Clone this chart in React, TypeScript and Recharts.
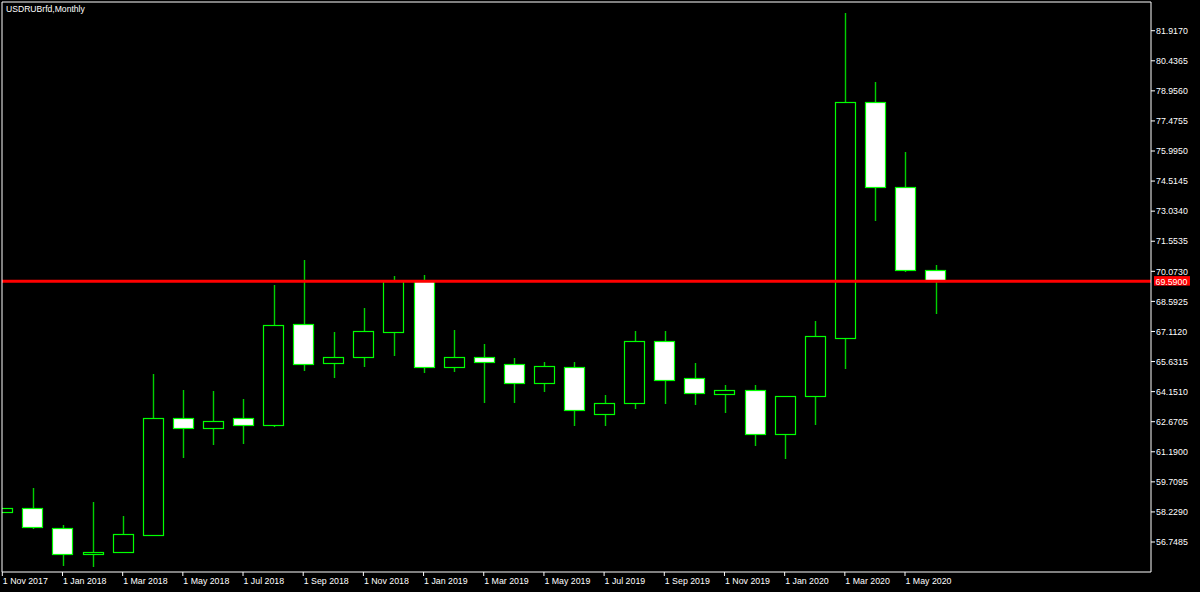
import React from 'react';
import { ComposedChart, Bar, XAxis, YAxis, ReferenceLine } from 'recharts';

const months = [
  'Nov 2017', 'Dec 2017', 'Jan 2018', 'Feb 2018', 'Mar 2018', 'Apr 2018', 'May 2018', 'Jun 2018',
  'Jul 2018', 'Aug 2018', 'Sep 2018', 'Oct 2018', 'Nov 2018', 'Dec 2018', 'Jan 2019', 'Feb 2019',
  'Mar 2019', 'Apr 2019', 'May 2019', 'Jun 2019', 'Jul 2019', 'Aug 2019', 'Sep 2019', 'Oct 2019',
  'Nov 2019', 'Dec 2019', 'Jan 2020', 'Feb 2020', 'Mar 2020', 'Apr 2020', 'May 2020', 'Jun 2020',
];

const openVals = [
  58.25, 58.41, 57.42, 56.14, 56.26, 57.09, 62.84, 62.37,
  62.84, 62.51, 67.48, 65.57, 65.84, 67.07, 69.62, 65.35,
  65.86, 65.53, 64.56, 65.35, 63.06, 63.58, 66.64, 64.81,
  64.05, 64.25, 62.05, 63.92, 66.78, 78.41, 74.24, 70.12,
];
const highVals = [
  58.41, 59.39, 57.59, 58.73, 58.04, 65.02, 64.23, 64.18,
  63.77, 69.40, 70.63, 67.07, 68.25, 69.83, 69.89, 67.17,
  66.48, 65.82, 65.59, 65.60, 63.97, 67.13, 67.13, 65.55,
  64.48, 64.48, 63.93, 67.63, 82.77, 79.39, 75.96, 70.37,
];
const lowVals = [
  58.25, 57.37, 55.57, 55.50, 56.19, 57.04, 60.87, 61.52,
  61.57, 62.39, 65.18, 64.82, 65.36, 65.92, 65.08, 65.13,
  63.61, 63.61, 64.12, 62.46, 62.47, 63.28, 63.56, 63.51,
  63.11, 61.49, 60.83, 62.51, 65.27, 72.56, 70.05, 67.97,
];
const closeVals = [
  58.41, 57.50, 56.14, 56.27, 57.13, 62.84, 62.37, 62.70,
  62.51, 67.43, 65.53, 65.87, 67.13, 69.62, 65.35, 65.86,
  65.59, 64.56, 65.40, 63.25, 63.58, 66.64, 64.74, 64.10,
  64.25, 62.05, 63.92, 66.87, 78.41, 74.22, 70.12, 69.59,
];

const xTickIndex = [0, 2, 4, 6, 8, 10, 12, 14, 16, 18, 20, 22, 24, 26, 28, 30];
const xTickLabels = [
  '1 Nov 2017', '1 Jan 2018', '1 Mar 2018', '1 May 2018', '1 Jul 2018', '1 Sep 2018',
  '1 Nov 2018', '1 Jan 2019', '1 Mar 2019', '1 May 2019', '1 Jul 2019', '1 Sep 2019',
  '1 Nov 2019', '1 Jan 2020', '1 Mar 2020', '1 May 2020',
];
const yTicks = [
  56.7485, 58.229, 59.7095, 61.19, 62.6705, 64.151, 65.6315, 67.112, 68.5925,
  70.073, 71.5535, 73.034, 74.5145, 75.995, 77.4755, 78.956, 80.4365, 81.917,
];
const yTickLabels = [
  '56.7485', '58.2290', '59.7095', '61.1900', '62.6705', '64.1510', '65.6315', '67.1120', '68.5925',
  '70.0730', '71.5535', '73.0340', '74.5145', '75.9950', '77.4755', '78.9560', '80.4365', '81.9170',
];
const lastPrice = 69.59;
const lastPriceLabel = '69.5900';
const title = 'USDRUBrfd,Monthly';

const X_MIN = -0.01;
const X_MAX = 38.175;
const Y_MIN = 55.272;
const Y_MAX = 83.33;

const data = months.map((m, i) => ({
  i,
  month: m,
  open: openVals[i],
  high: highVals[i],
  low: lowVals[i],
  close: closeVals[i],
  range: [lowVals[i], highVals[i]],
}));

const FONT = '"Liberation Sans", Arial, sans-serif';
const GREEN = '#00ff00';
const WICK = '#00d000';

const Candle = (props: any) => {
  const { x, y, width, height, payload } = props;
  if (payload == null || x == null || y == null) return null;
  const { open, close, high, low } = payload;
  const top = Math.min(y, y + height);
  const h = Math.abs(height);
  const span = high - low;
  const k = span > 0 ? h / span : 0;
  const yO = top + (high - open) * k;
  const yC = top + (high - close) * k;
  const bTop = Math.round(Math.min(yO, yC));
  const bBot = Math.round(Math.max(yO, yC));
  const cx = x + width / 2;
  const wx = Math.round(cx) + 0.5;
  const bx = Math.round(cx - 10.5) + 0.5;
  const bull = close > open;
  const yHigh = Math.round(top);
  const yLow = Math.round(top + h);
  return (
    <g>
      {bTop > yHigh && (
        <line x1={wx} x2={wx} y1={yHigh} y2={bTop} stroke={WICK} strokeWidth={1.4} />
      )}
      {yLow > bBot && (
        <line x1={wx} x2={wx} y1={bBot} y2={yLow} stroke={WICK} strokeWidth={1.4} />
      )}
      <rect
        x={bx}
        y={bTop + 0.5}
        width={20}
        height={Math.max(bBot - bTop, 1)}
        fill={bull ? '#000000' : '#ffffff'}
        stroke={GREEN}
        strokeWidth={1.2}
      />
    </g>
  );
};

const XTick = (props: any) => {
  const { x, y, payload } = props;
  const idx = xTickIndex.indexOf(payload.value);
  const label = idx >= 0 ? xTickLabels[idx] : '';
  return (
    <text x={x + 0.5} y={y} dy={5.6} fill="#ffffff" fontSize={8.8} fontFamily={FONT} textAnchor="start">
      {label}
    </text>
  );
};

const YTick = (props: any) => {
  const { x, y, payload } = props;
  const idx = yTicks.indexOf(payload.value);
  const label = idx >= 0 ? yTickLabels[idx] : String(payload.value);
  return (
    <text x={x} y={y} dy={3.2} fill="#ffffff" fontSize={8.8} fontFamily={FONT} textAnchor="start">
      {label}
    </text>
  );
};

const PriceLabel = (p: any) => {
  const vb = p.viewBox || {};
  const yy = vb.y ?? 0;
  const xx = (vb.x ?? 0) + (vb.width ?? 0);
  return (
    <g>
      <rect x={xx + 3} y={yy - 5} width={36} height={9.5} fill="#ff0000" />
      <text x={xx + 4.5} y={yy + 3.4} fill="#ffffff" fontSize={8.8} fontFamily={FONT}>
        {lastPriceLabel}
      </text>
    </g>
  );
};

export default function App() {
  return (
    <div style={{ position: 'absolute', left: 0, top: 0, width: 1200, height: 592, background: '#000000' }}>
      <ComposedChart
        width={1200}
        height={592}
        data={data}
        margin={{ top: 2, right: 0, bottom: 0, left: 2 }}
        style={{ background: '#000000' }}
      >
        <XAxis
          dataKey="i"
          type="number"
          domain={[X_MIN, X_MAX]}
          allowDataOverflow
          ticks={xTickIndex}
          interval={0}
          height={20}
          tickSize={4}
          tickMargin={2}
          axisLine={{ stroke: '#ffffff', strokeWidth: 1 }}
          tickLine={{ stroke: '#ffffff', strokeWidth: 1 }}
          tick={<XTick />}
        />
        <YAxis
          orientation="right"
          type="number"
          domain={[Y_MIN, Y_MAX]}
          allowDataOverflow
          ticks={yTicks}
          interval={0}
          width={49}
          tickSize={4}
          tickMargin={1}
          axisLine={{ stroke: '#ffffff', strokeWidth: 1 }}
          tickLine={{ stroke: '#ffffff', strokeWidth: 1 }}
          tick={<YTick />}
        />
        <Bar dataKey="range" barSize={21} shape={<Candle />} isAnimationActive={false} />
        <ReferenceLine
          y={lastPrice}
          stroke="#ff0000"
          strokeWidth={3}
          ifOverflow="extendDomain"
          label={<PriceLabel />}
        />
        <ReferenceLine x={X_MIN} stroke="#ffffff" strokeWidth={1} />
        <ReferenceLine y={Y_MAX} stroke="#ffffff" strokeWidth={1} />
      </ComposedChart>
      <div
        style={{
          position: 'absolute',
          left: 6,
          top: 4,
          color: '#ffffff',
          fontFamily: FONT,
          fontSize: 8.6,
          lineHeight: '10px',
          whiteSpace: 'nowrap',
        }}
      >
        {title}
      </div>
    </div>
  );
}
